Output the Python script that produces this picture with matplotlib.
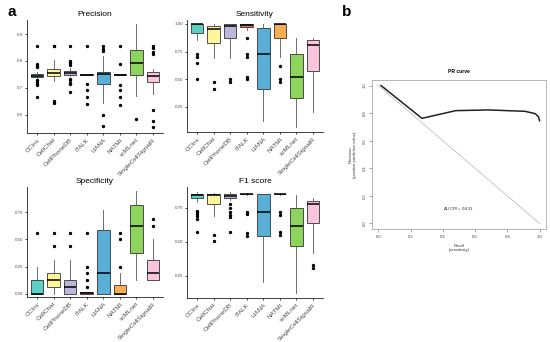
import matplotlib
matplotlib.use("Agg")
import matplotlib.pyplot as plt

plt.rcParams['font.family'] = ['Liberation Sans', 'DejaVu Sans']

methods = ['CCInx', 'CellChat', 'CellPhoneDB', 'iTALK', 'LIANA', 'NATMI', 'scMLnet', 'SingleCellSignalR']
colors = ['#5ECFC4', '#FFF59D', '#BDB5DA', '#E5685A', '#5AAFD6', '#F7AE53', '#8DD45C', '#FBC4DD']

# Precision
prec_q1 = [0.741, 0.743, 0.749, 0.748, 0.715, 0.748, 0.747, 0.721]
prec_med = [0.746, 0.756, 0.755, 0.749, 0.752, 0.749, 0.793, 0.746]
prec_q3 = [0.752, 0.770, 0.763, 0.750, 0.759, 0.750, 0.842, 0.759]
prec_lo = [0.735, 0.724, 0.745, 0.748, 0.645, 0.748, 0.669, 0.679]
prec_hi = [0.760, 0.805, 0.775, 0.750, 0.817, 0.750, 0.937, 0.770]
prec_out = [[0.857, 0.788, 0.782, 0.776, 0.728, 0.722, 0.716, 0.710, 0.667],
            [0.857, 0.855, 0.653, 0.643],
            [0.857, 0.801, 0.793, 0.786, 0.735, 0.728, 0.720, 0.714, 0.686],
            [0.857, 0.715, 0.694, 0.665, 0.641],
            [0.857, 0.844, 0.838, 0.601, 0.560],
            [0.857, 0.790, 0.712, 0.694, 0.667, 0.638],
            [0.585],
            [0.857, 0.850, 0.833, 0.826, 0.620, 0.579, 0.557]]

# Sensitivity
sens_q1 = [0.918, 0.827, 0.872, 0.970, 0.416, 0.872, 0.331, 0.577]
sens_med = [1.0, 0.957, 0.979, 0.995, 0.729, 1.0, 0.523, 0.811]
sens_q3 = [1.0, 0.979, 1.0, 1.0, 0.964, 1.0, 0.726, 0.851]
sens_lo = [0.857, 0.690, 0.690, 0.950, 0.127, 0.705, 0.066, 0.203]
sens_hi = [1.0, 1.0, 1.0, 1.0, 1.0, 1.0, 0.872, 0.872]
sens_out = [[0.726, 0.705, 0.644, 0.500],
            [0.477, 0.416],
            [0.500, 0.477],
            [0.872, 0.726, 0.705, 0.520, 0.500],
            [],
            [0.623, 0.500, 0.477],
            [],
            []]

# Specificity
spec_q1 = [0.0, 0.0625, 0.0, 0.0, 0.0, 0.0, 0.375, 0.125]
spec_med = [0.003, 0.125, 0.0625, 0.006, 0.1875, 0.003, 0.625, 0.1875]
spec_q3 = [0.125, 0.1875, 0.125, 0.015, 0.583, 0.08, 0.8125, 0.3125]
spec_lo = [0.0, 0.0, 0.0, 0.0, 0.0, 0.0, 0.125, 0.125]
spec_hi = [0.25, 0.3125, 0.3125, 0.02, 0.77, 0.1875, 0.94, 0.5]
spec_out = [[0.5625],
            [0.5625, 0.4375],
            [0.5625, 0.4375],
            [0.5625, 0.25, 0.1875, 0.125, 0.0625],
            [],
            [0.5625, 0.5, 0.25],
            [],
            [0.6875, 0.625]]

# F1 score
f1_q1 = [0.821, 0.779, 0.821, 0.850, 0.544, 0.850, 0.471, 0.642]
f1_med = [0.846, 0.846, 0.841, 0.853, 0.718, 0.853, 0.618, 0.779]
f1_q3 = [0.850, 0.850, 0.853, 0.856, 0.850, 0.856, 0.748, 0.804]
f1_lo = [0.797, 0.694, 0.810, 0.848, 0.208, 0.845, 0.123, 0.417]
f1_hi = [0.870, 0.863, 0.870, 0.858, 0.850, 0.862, 0.846, 0.821]
f1_out = [[0.730, 0.718, 0.706, 0.694, 0.669, 0.571],
          [0.551, 0.507],
          [0.777, 0.748, 0.718, 0.699, 0.681, 0.576],
          [0.718, 0.706, 0.564, 0.547],
          [],
          [0.718, 0.701, 0.571, 0.551],
          [],
          [0.331, 0.306]]

# PR curve
pr_recall = [0.016, 0.27, 0.48, 0.685, 0.91, 0.973, 0.994, 1.0]
pr_precision = [1.0, 0.762, 0.818, 0.823, 0.813, 0.796, 0.772, 0.745]
auc_pr = 0.831

fig = plt.figure(figsize=(5.5, 3.42), dpi=100)

W, H = 550.0, 342.0


def ax_px(l, t, r, b):
    return fig.add_axes([l / W, 1 - b / H, (r - l) / W, (b - t) / H])


def box_panel(ax, title, q1, med, q3, lo, hi, out, ylim, yticks, yticklabels):
    stats = []
    for i in range(len(methods)):
        stats.append(dict(q1=q1[i], med=med[i], q3=q3[i], whislo=lo[i], whishi=hi[i],
                          fliers=out[i], label=methods[i]))
    pos = list(range(1, len(methods) + 1))
    bp = ax.bxp(stats, positions=pos, widths=0.75, patch_artist=True, showcaps=False,
                boxprops=dict(linewidth=0.6, edgecolor='#333333'),
                medianprops=dict(color='black', linewidth=1.1),
                whiskerprops=dict(color='#555555', linewidth=0.6),
                flierprops=dict(marker='o', markersize=1.4, markerfacecolor='black',
                                markeredgecolor='black', linestyle='none'))
    for patch, c in zip(bp['boxes'], colors):
        patch.set_facecolor(c)
    ax.set_xlim(0.4, len(methods) + 0.6)
    ax.set_ylim(*ylim)
    ax.set_yticks(yticks)
    ax.set_yticklabels(yticklabels)
    ax.set_xticks(pos)
    ax.set_xticklabels(methods, rotation=45, ha='right', va='top', rotation_mode='anchor')
    for s in ['top', 'right']:
        ax.spines[s].set_visible(False)
    for s in ['left', 'bottom']:
        ax.spines[s].set_linewidth(0.6)
        ax.spines[s].set_color('#222222')
    ax.tick_params(axis='y', labelsize=3.2, labelcolor='#4D4D4D', length=1.5, width=0.5, pad=1.5)
    ax.tick_params(axis='x', labelsize=4.6, labelcolor='#4D4D4D', length=1.5, width=0.5, pad=1.5)
    ax.set_title(title, fontsize=6, pad=3)


ax1 = ax_px(27, 20, 163, 133)
box_panel(ax1, 'Precision', prec_q1, prec_med, prec_q3, prec_lo, prec_hi, prec_out,
          (0.533, 0.952), [0.6, 0.7, 0.8, 0.9], ['0.6', '0.7', '0.8', '0.9'])
ax2 = ax_px(187, 20, 323, 132)
box_panel(ax2, 'Sensitivity', sens_q1, sens_med, sens_q3, sens_lo, sens_hi, sens_out,
          (0.023, 1.036), [0.25, 0.5, 0.75, 1.0], ['0.25', '0.50', '0.75', '1.00'])
ax3 = ax_px(27, 187, 163, 297)
box_panel(ax3, 'Specificity', spec_q1, spec_med, spec_q3, spec_lo, spec_hi, spec_out,
          (-0.028, 0.98), [0.0, 0.25, 0.5, 0.75], ['0.00', '0.25', '0.50', '0.75'])
ax4 = ax_px(187, 187, 323, 298)
box_panel(ax4, 'F1 score', f1_q1, f1_med, f1_q3, f1_lo, f1_hi, f1_out,
          (0.088, 0.904), [0.25, 0.5, 0.75], ['0.25', '0.50', '0.75'])

# PR curve panel
ax5 = ax_px(372, 80, 546, 229)
ax5.plot([0, 1], [1, 0], color='#C8C8C8', linewidth=0.7)
ax5.plot(pr_recall, pr_precision, color='#222222', linewidth=1.1)
ax5.set_xlim(-0.04, 1.04)
ax5.set_ylim(-0.04, 1.04)
ticks = [0.0, 0.2, 0.4, 0.6, 0.8, 1.0]
ax5.set_xticks(ticks)
ax5.set_xticklabels(['0.0', '0.2', '0.4', '0.6', '0.8', '1.0'])
ax5.set_yticks(ticks)
ax5.set_yticklabels(['0.0', '0.2', '0.4', '0.6', '0.8', '1.0'], rotation=90, va='center')
for s in ax5.spines.values():
    s.set_color('#AAAAAA')
    s.set_linewidth(0.6)
ax5.tick_params(labelsize=3, labelcolor='#444444', length=2, width=0.4, color='#666666', pad=2)
ax5.set_title('PR curve', fontsize=3.6, fontweight='bold', pad=5)
ax5.set_xlabel('Recall\n(sensitivity)', fontsize=3, color='#333333', labelpad=4, linespacing=1.1)
ax5.set_ylabel('Precision\n(positive predictive value)', fontsize=3, color='#333333', labelpad=4,
               linespacing=1.1)
ax5.text(0.5, 0.1, 'AUC$_{PR}$ = %.3f' % auc_pr, fontsize=3.2, ha='center', va='center',
         color='#333333', transform=ax5.transData)

fig.text(8 / W, 1 - 12 / H, 'a', fontsize=11, fontweight='bold', ha='left', va='center')
fig.text(342 / W, 1 - 12 / H, 'b', fontsize=11, fontweight='bold', ha='left', va='center')

fig.savefig('out.png', dpi=100)
